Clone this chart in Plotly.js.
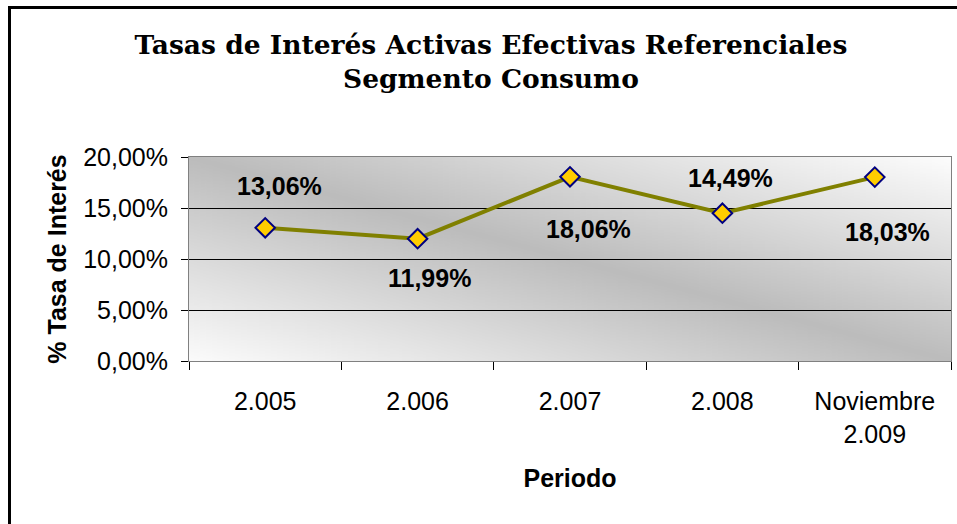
<!DOCTYPE html>
<html>
<head>
<meta charset="utf-8">
<script src="https://cdn.plot.ly/plotly-3.0.1.min.js"></script>
<style>
html,body{margin:0;padding:0;background:#fff;}
#chart{width:957px;height:524px;}
</style>
</head>
<body>
<div id="chart"></div>
<script>
const categories = ["2.005", "2.006", "2.007", "2.008", "Noviembre<br>2.009"];
const rates = [0.1306, 0.1199, 0.1806, 0.1449, 0.1803];
const labelTexts = ["13,06%", "11,99%", "18,06%", "14,49%", "18,03%"];
const labelShiftX = [14, 12, 18, 8, 13];
const labelShiftY = [42, -39, -52, 35, -55];

// gradient background image
const cv = document.createElement('canvas');
cv.width = 256; cv.height = 256;
const ctx = cv.getContext('2d');
const g = ctx.createLinearGradient(0, 256, 256, 0);
g.addColorStop(0, '#fbfbfb');
g.addColorStop(0.5, '#bcbcbc');
g.addColorStop(1, '#fdfdfd');
ctx.fillStyle = g;
ctx.fillRect(0, 0, 256, 256);
const bgURL = cv.toDataURL('image/png');

const trace = {
  type: 'scatter',
  mode: 'lines+markers',
  x: categories,
  y: rates,
  line: {color: '#808000', width: 4},
  marker: {symbol: 'diamond', size: 15, color: '#FFCC00', line: {color: '#000080', width: 2}},
  hoverinfo: 'skip',
  cliponaxis: false
};

// category index positions (numeric) so "2.005"-like strings are not read as numbers
const annotations = categories.map((c, i) => ({
  x: i, y: rates[i], xref: 'x', yref: 'y',
  text: labelTexts[i], showarrow: false,
  xshift: labelShiftX[i], yshift: labelShiftY[i],
  font: {family: 'Liberation Sans, Arial, sans-serif', size: 25, color: '#000', weight: 'bold'}
}));

const pl = 189, pr = 951, pt = 157, pb = 361;
const W = 957, H = 524;
const px = v => (v - pl) / (pr - pl);
const py = v => (pb - v) / (pb - pt);

const layout = {
  width: W, height: H,
  margin: {l: pl, r: W - pr, t: pt, b: H - pb, pad: 0},
  paper_bgcolor: '#ffffff',
  plot_bgcolor: 'rgba(0,0,0,0)',
  separators: ',.',
  showlegend: false,
  title: {
    text: 'Tasas de Interés Activas Efectivas Referenciales<br>Segmento Consumo',
    font: {family: 'DejaVu Serif, serif', size: 26.5, color: '#000', weight: 'bold'},
    x: 0.513, xref: 'container', xanchor: 'center',
    y: 1 - 54 / H, yref: 'container', yanchor: 'top'
  },
  xaxis: {
    type: 'category',
    range: [-0.5, 4.5],
    showgrid: false,
    zeroline: false,
    showline: true, linecolor: '#808080', linewidth: 1, mirror: true,
    ticks: 'outside', tickson: 'boundaries', ticklen: 8, tickcolor: '#000', tickwidth: 1,
    ticklabelstandoff: 18,
    tickfont: {family: 'Liberation Sans, Arial, sans-serif', size: 25, color: '#000'},
    title: {text: 'Periodo', font: {family: 'Liberation Sans, Arial, sans-serif', size: 25, color: '#000', weight: 'bold'}, standoff: 22},
    fixedrange: true
  },
  yaxis: {
    range: [0, 0.2],
    dtick: 0.05,
    tick0: 0,
    tickformat: '.2%',
    showgrid: true, gridcolor: '#000', gridwidth: 1,
    zeroline: false,
    showline: true, linecolor: '#808080', linewidth: 1, mirror: true,
    ticks: 'outside', ticklen: 7, tickcolor: '#000', tickwidth: 1,
    ticklabelstandoff: 8,
    tickfont: {family: 'Liberation Sans, Arial, sans-serif', size: 25, color: '#000'},
    title: {text: '% Tasa de Interés', font: {family: 'Liberation Sans, Arial, sans-serif', size: 25, color: '#000', weight: 'bold'}, standoff: 9},
    fixedrange: true
  },
  images: [{
    source: bgURL, xref: 'paper', yref: 'paper',
    x: 0, y: 1, sizex: 1, sizey: 1, xanchor: 'left', yanchor: 'top',
    sizing: 'stretch', layer: 'below'
  }],
  shapes: [{
    type: 'rect', xref: 'paper', yref: 'paper',
    x0: px(9.5), x1: px(990), y0: py(7.5), y1: py(560),
    line: {color: '#000', width: 3}, fillcolor: 'rgba(0,0,0,0)', layer: 'below'
  }],
  annotations: annotations
};

Plotly.newPlot('chart', [trace], layout, {displayModeBar: false, staticPlot: true});
</script>
</body>
</html>
